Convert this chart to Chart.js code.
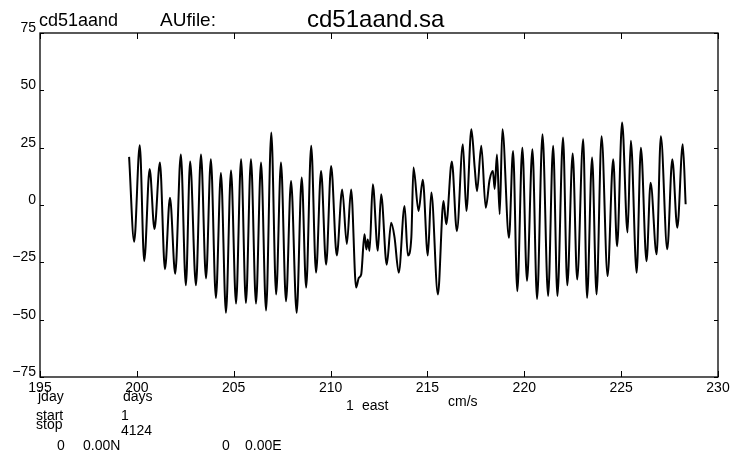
<!DOCTYPE html>
<html>
<head>
<meta charset="utf-8">
<script src="https://cdn.jsdelivr.net/npm/chart.js@4.4.1/dist/chart.umd.min.js"></script>
<style>
  html, body { margin: 0; padding: 0; background: #fff; }
  #wrap { position: relative; width: 734px; height: 457px; }
</style>
</head>
<body>
<div id="wrap"><canvas id="c" width="734" height="457"></canvas></div>
<script>
// ---- data (julian day, east velocity cm/s) ----
const days = [
  199.60, 199.86, 200.15, 200.38, 200.66, 200.91, 201.19, 201.45, 201.71, 201.98,
  202.27, 202.53, 202.75, 203.05, 203.31, 203.57, 203.82, 204.08, 204.34, 204.60,
  204.86, 205.12, 205.38, 205.63, 205.89, 206.15, 206.41, 206.67, 206.94, 207.19,
  207.44, 207.70, 207.96, 208.25, 208.51, 208.74, 209.00, 209.25, 209.51, 209.77,
  210.03, 210.32, 210.60, 210.84, 211.06, 211.32, 211.46, 211.58, 211.75, 211.85,
  211.92, 212.01, 212.18, 212.44, 212.61, 212.90, 213.13, 213.30, 213.52, 213.82,
  213.99, 214.17, 214.28, 214.54, 214.76, 215.02, 215.20, 215.54, 215.83, 215.97,
  216.26, 216.52, 216.83, 217.01, 217.27, 217.44, 217.56, 217.78, 218.01, 218.21,
  218.38, 218.47, 218.59, 218.73, 218.87, 219.21, 219.42, 219.64, 219.90, 220.14,
  220.42, 220.66, 220.94, 221.23, 221.49, 221.71, 222.00, 222.22, 222.50, 222.73,
  223.04, 223.24, 223.50, 223.73, 223.99, 224.30, 224.59, 224.79, 225.05, 225.33,
  225.50, 225.80, 226.02, 226.31, 226.52, 226.83, 227.05, 227.38, 227.64, 227.90,
  228.18, 228.33
];
const eastVel = [
   21, -16,  26, -24.5, 15.7, -10.5, 18.5, -28,  3.2, -30,
   22, -35,  19, -35,  22, -32,  20, -40.5, 14, -47,
   15, -43,  20, -42.7, 20, -43, 18.5, -46, 31.6, -39,
   18.5, -42, 10.5, -47, 12, -36, 25.8, -29.5, 14.8, -26,
   17, -22,  6.8, -17,  6.8, -36, -31.7, -30.3, -12.8, -19.4,
  -15, -20,   9, -20,  4.7, -26, -7.7, -14, -29.5, -0.4,
  -22, -14, 16.3, -2.6, 11, -22,  5.4, -39,  1.7, -8.4,
   19, -11.4, 26.5, -2.6, 33, 16.3,  6, 25.8, -1.2, 11,
   14.8, 7, 22, -4, 33, -14.3, 23.6, -37.6, 25, -33,
   24.3, -41, 30.9, -39.7, 25.8, -39.7, 29.4, -35, 22.5, -32.5,
   28.7, -40.5, 20.7, -39, 30, -31, 20, -18, 36, -12,
   28, -29.5, 25, -24.5, 9.7, -21.5, 30, -19.3, 20, -9.9,
   26.5, 0.3
];
const xTicks = [195, 200, 205, 210, 215, 220, 225, 230];
const yTicks = [-75, -50, -25, 0, 25, 50, 75];

const points = days.map((d, i) => ({ x: d, y: eastVel[i] }));
const FONT = "'Liberation Sans', Arial, sans-serif";

const framePlugin = {
  id: 'frame',
  afterDraw(chart) {
    const ctx = chart.ctx;
    const a = chart.chartArea;
    const xs = chart.scales.x, ys = chart.scales.y;
    ctx.save();
    ctx.strokeStyle = '#000';
    ctx.lineWidth = 1.3;
    ctx.strokeRect(a.left, a.top, a.right - a.left, a.bottom - a.top);
    ctx.lineWidth = 1;
    ctx.beginPath();
    xTicks.forEach(v => {
      const px = Math.round(xs.getPixelForValue(v)) + 0.5;
      ctx.moveTo(px, a.bottom); ctx.lineTo(px, a.bottom - 6);
      ctx.moveTo(px, a.top); ctx.lineTo(px, a.top + 6);
    });
    yTicks.forEach(v => {
      const py = Math.round(ys.getPixelForValue(v)) + 0.5;
      ctx.moveTo(a.left, py); ctx.lineTo(a.left + 4, py);
      ctx.moveTo(a.right, py); ctx.lineTo(a.right - 4, py);
    });
    ctx.stroke();

    // header and footer annotations
    ctx.fillStyle = '#000';
    ctx.textAlign = 'left';
    ctx.textBaseline = 'alphabetic';
    ctx.font = '18px ' + FONT;
    ctx.fillText('cd51aand', 39, 26);
    ctx.font = '19px ' + FONT;
    ctx.fillText('AUfile:', 160, 26);
    ctx.font = '24px ' + FONT;
    ctx.fillText('cd51aand.sa', 307, 27);

    ctx.font = '14px ' + FONT;
    ctx.fillText('jday', 38, 401);
    ctx.fillText('days', 123, 401);
    ctx.fillText('1', 346, 410);
    ctx.fillText('east', 362, 410);
    ctx.fillText('cm/s', 448, 406);
    ctx.fillText('start', 36, 420);
    ctx.fillText('1', 121, 420);
    ctx.fillText('stop', 36, 429);
    ctx.fillText('4124', 121, 435);
    ctx.fillText('0', 57, 450);
    ctx.fillText('0.00N', 83, 450);
    ctx.fillText('0', 222, 450);
    ctx.fillText('0.00E', 245, 450);
    ctx.restore();
  }
};

new Chart(document.getElementById('c'), {
  type: 'line',
  data: {
    datasets: [{
      data: points,
      borderColor: '#000',
      borderWidth: 2,
      pointRadius: 0,
      fill: false,
      cubicInterpolationMode: 'monotone'
    }]
  },
  options: {
    responsive: false,
    devicePixelRatio: 1,
    animation: false,
    layout: { padding: { left: 0, top: 33, right: 16, bottom: 0 } },
    plugins: { legend: { display: false }, tooltip: { enabled: false }, title: { display: false } },
    scales: {
      x: {
        type: 'linear',
        min: 195, max: 230,
        afterFit(s) { s.height = 80; },
        afterBuildTicks(s) { s.ticks = xTicks.map(v => ({ value: v })); },
        grid: { display: false, drawTicks: false },
        border: { display: false },
        ticks: { color: '#000', font: { family: FONT, size: 14 }, padding: 3, maxRotation: 0, autoSkip: false }
      },
      y: {
        min: -75, max: 75,
        afterFit(s) { s.width = 40; },
        afterBuildTicks(s) { s.ticks = yTicks.map(v => ({ value: v })); },
        grid: { display: false, drawTicks: false },
        border: { display: false },
        ticks: {
          color: '#000', font: { family: FONT, size: 14 }, padding: 4, labelOffset: -5,
          callback: v => String(v).replace('-', '\u2212')
        }
      }
    }
  },
  plugins: [framePlugin]
});
</script>
</body>
</html>
